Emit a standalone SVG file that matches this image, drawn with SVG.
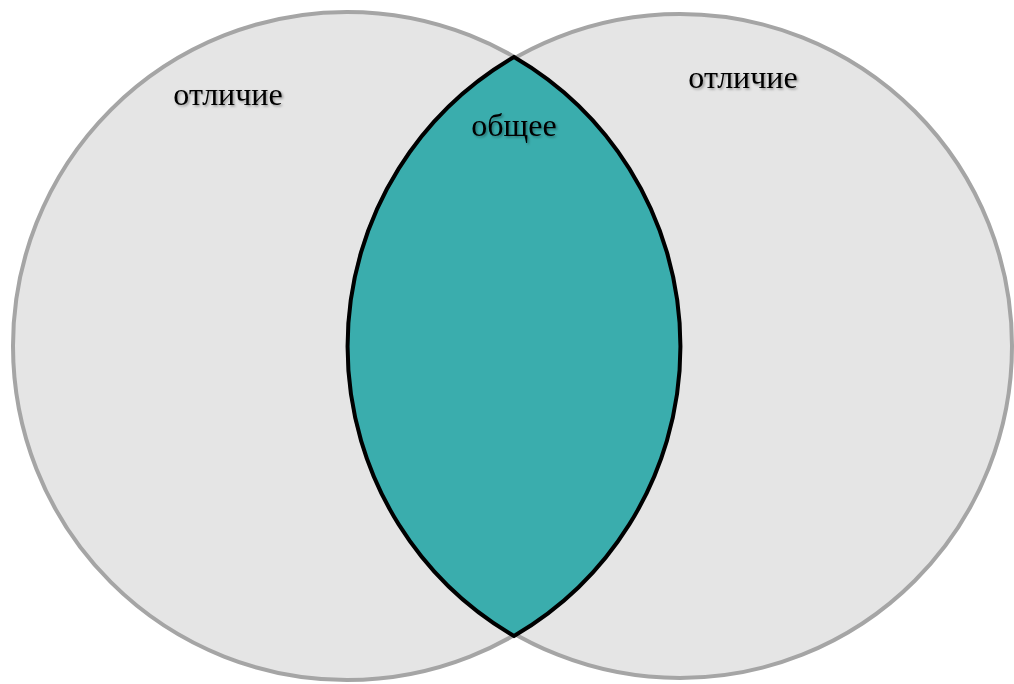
<svg xmlns="http://www.w3.org/2000/svg" width="1014" height="684" viewBox="0 0 1014 684">
<style>
.c{fill:#e5e5e5;stroke:#a5a5a5;stroke-width:4}
.t{font-family:"Liberation Serif",serif;font-size:32px;fill:#000}
</style>
<defs>
<filter id="sh" x="-10%" y="-30%" width="130%" height="160%">
<feDropShadow dx="1.5" dy="1.5" stdDeviation="1" flood-color="#000" flood-opacity="0.35"/>
</filter>
</defs>
<rect width="1014" height="684" fill="#fff"/>
<g id="left">
<circle class="c" cx="347" cy="346" r="334"/>
</g>
<g id="right">
<circle class="c" cx="680" cy="346" r="332"/>
</g>
<g id="common">
<path d="M514,57 A335,335 0 0 0 514,636 A335,335 0 0 0 514,57 Z" fill="#3aadad" stroke="#000" stroke-width="4" stroke-linejoin="miter"/>
</g>
<g id="labels" filter="url(#sh)">
<text class="t" x="228" y="105" text-anchor="middle">отличие</text>
<text class="t" x="743" y="88" text-anchor="middle">отличие</text>
<text class="t" x="514" y="136" text-anchor="middle">общее</text>
</g>
</svg>
